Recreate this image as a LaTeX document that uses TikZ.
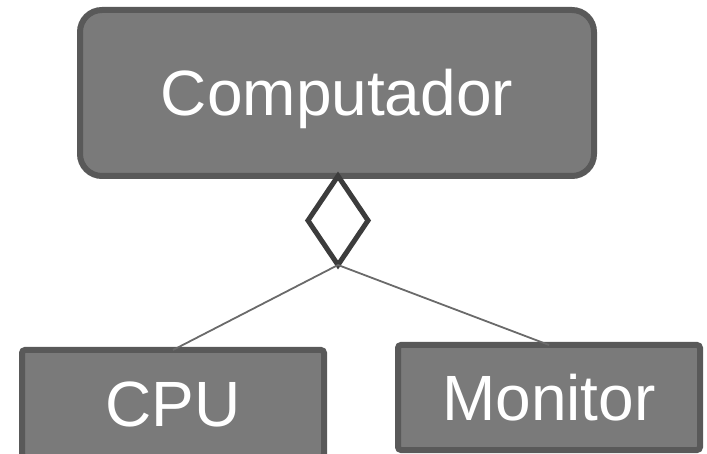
\documentclass[tikz,border=0pt]{standalone}
\usepackage{fontspec}
\setmainfont{Liberation Sans}
\usetikzlibrary{shapes.geometric}
\definecolor{boxfill}{HTML}{7A7A7A}
\definecolor{boxline}{HTML}{595959}
\definecolor{diaml}{HTML}{3C3C3C}
\definecolor{conn}{HTML}{6A6A6A}
\tikzset{
  classbox/.style={draw=boxline, fill=boxfill, line width=6pt, inner sep=0pt, outer sep=0pt,
    text=white, font=\fontsize{64}{64}\selectfont, text height=46pt, text depth=0pt},
  aggdiam/.style={diamond, draw=diaml, fill=white, line width=5pt, inner sep=0pt, outer sep=0pt,
    minimum width=60pt, minimum height=89pt},
  connector/.style={draw=conn, line width=1.8pt}
}
\begin{document}
\begin{tikzpicture}[x=1pt,y=-1pt]
\useasboundingbox (0,0) rectangle (707,454);
\node[classbox, rounded corners=22pt, minimum width=514pt, minimum height=166pt] (comp) at (337,93) {Computador};
\node[classbox, rounded corners=3pt, minimum width=302pt, minimum height=107pt] (cpu) at (173,403.5) {CPU};
\node[classbox, rounded corners=3pt, minimum width=302pt, minimum height=105pt] (mon) at (549,397.5) {Monitor};
\node[aggdiam] (agg) at (338,220.5) {};
\draw[connector] (agg.south) -- (cpu.north);
\draw[connector] (agg.south) -- (mon.north);
\end{tikzpicture}
\end{document}
